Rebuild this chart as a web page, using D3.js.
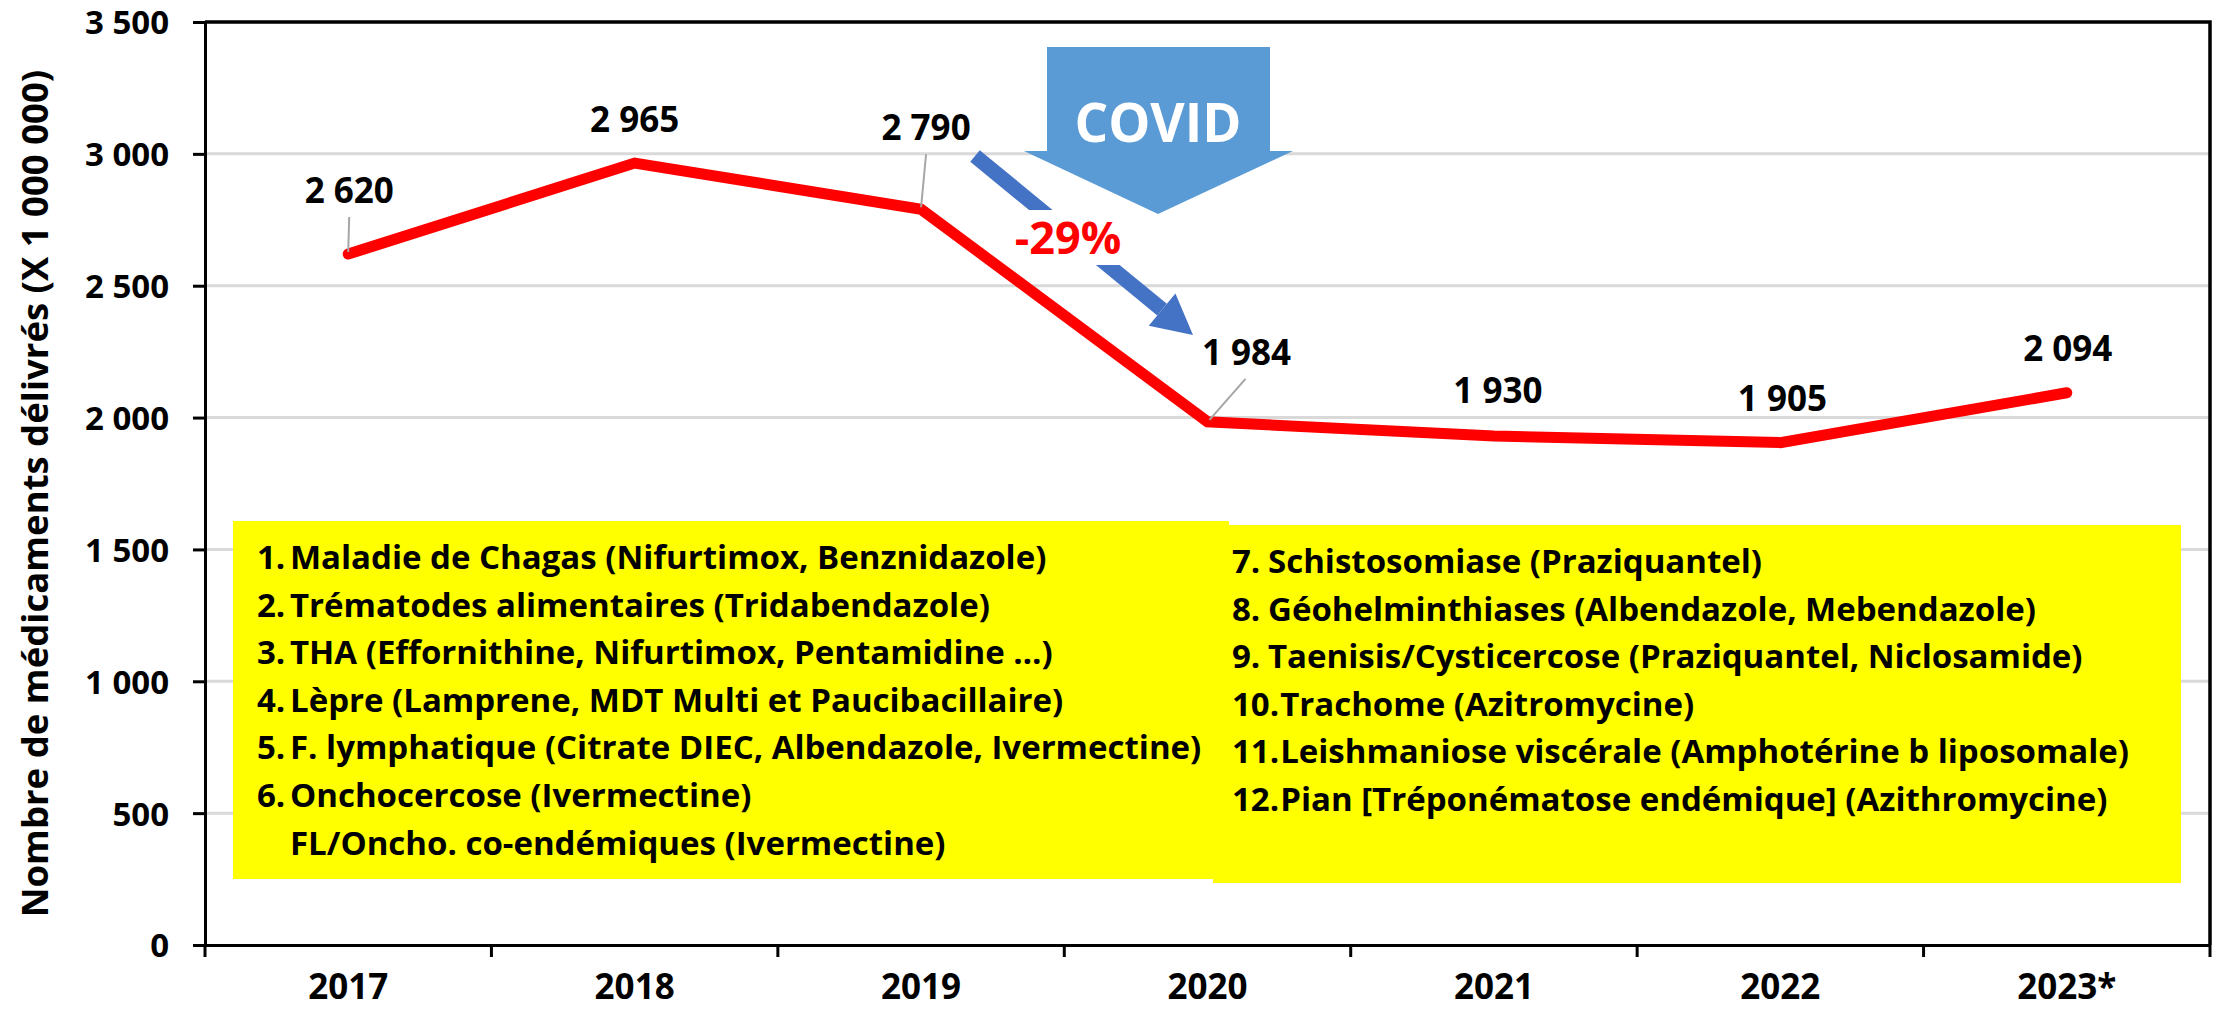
<!DOCTYPE html>
<html>
<head>
<meta charset="utf-8">
<script src="https://cdn.jsdelivr.net/npm/d3@7"></script>
<style>
  body { margin: 0; background: #fff; }
  text { font-family: 'Open Sans', Lato, sans-serif; font-weight: bold; }
</style>
</head>
<body>
<svg class="lineChart"></svg>
<script>
const years = ['2017', '2018', '2019', '2020', '2021', '2022', '2023*'];
const values = [2620, 2965, 2790, 1984, 1930, 1905, 2094];
const yTicks = [0, 500, 1000, 1500, 2000, 2500, 3000, 3500];
const yTitle = 'Nombre de médicaments délivrés (X 1 000 000)';
const covidText = 'COVID';
const dropText = '-29%';

const legendLeft = [
	['1.', 'Maladie de Chagas (Nifurtimox, Benznidazole)'],
	['2.', 'Trématodes alimentaires (Tridabendazole)'],
	['3.', 'THA (Effornithine, Nifurtimox, Pentamidine …)'],
	['4.', 'Lèpre (Lamprene, MDT Multi et Paucibacillaire)'],
	['5.', 'F. lymphatique (Citrate DIEC, Albendazole, Ivermectine)'],
	['6.', 'Onchocercose (Ivermectine)'],
	['', 'FL/Oncho. co-endémiques (Ivermectine)']
];
const legendRight = [
	['7.', 'Schistosomiase (Praziquantel)'],
	['8.', 'Géohelminthiases (Albendazole, Mebendazole)'],
	['9.', 'Taenisis/Cysticercose (Praziquantel, Niclosamide)'],
	['10.', 'Trachome (Azitromycine)'],
	['11.', 'Leishmaniose viscérale (Amphotérine b liposomale)'],
	['12.', 'Pian [Tréponématose endémique] (Azithromycine)']
];

// label offsets from each point: [dx, dy, leader line?]
const labelPos = [[1, -51, true], [0, -31, false], [5, -69, true], [39, -57, true], [4, -33, false], [2, -32, false], [1, -32, false]];

const svg = d3.select('.lineChart')
	.attr('width', 2219)
	.attr('height', 1009);

const fmt = d3.formatLocale({ decimal: ',', thousands: ' ', grouping: [3], currency: ['', ''] }).format(',');

const plotL = 205, plotR = 2210, plotT = 22, plotB = 945;

const yScale = d3.scaleLinear()
	.domain([0, 3500])
	.range([plotB, plotT]);

const xScale = d3.scaleBand()
	.domain(years)
	.range([plotL, plotR]);

const cx = d => xScale(d) + xScale.bandwidth() / 2;

// gridlines
svg.append('g')
	.selectAll('line')
	.data(yTicks.filter(t => t > 0 && t < 3500))
	.enter().append('line')
		.attr('x1', plotL).attr('x2', plotR)
		.attr('y1', d => yScale(d)).attr('y2', d => yScale(d))
		.attr('stroke', '#d9d9d9')
		.attr('stroke-width', 3);

// legend boxes
const drawLegend = (items, box, numX, textX) => {
	const g = svg.append('g');
	g.append('rect')
		.attr('x', box[0]).attr('y', box[1])
		.attr('width', box[2]).attr('height', box[3])
		.attr('fill', '#ffff00');
	items.forEach((it, i) => {
		const yy = box[1] + 48 + i * 47.6;
		const num = g.append('text')
			.attr('x', numX).attr('y', yy)
			.attr('font-size', 33)
			.text(it[0]);
		const w = it[0] ? num.node().getComputedTextLength() : 0;
		g.append('text')
			.attr('x', Math.max(textX, numX + w + 1)).attr('y', yy)
			.attr('font-size', 33)
			.text(it[1]);
	});
};
drawLegend(legendLeft, [233, 521, 996, 358], 257, 290);
drawLegend(legendRight, [1213, 525, 968, 358], 1232, 1268);

// y axis
const yAxis = d3.axisLeft(yScale)
	.tickValues(yTicks)
	.tickFormat(fmt)
	.tickSize(12)
	.tickSizeOuter(0)
	.tickPadding(24);

const yAxisG = svg.append('g')
	.attr('transform', `translate(${plotL},0)`)
	.call(yAxis);
yAxisG.select('.domain').attr('stroke-width', 3);
yAxisG.selectAll('.tick line').attr('stroke-width', 3);
yAxisG.selectAll('.tick text')
	.attr('font-size', 33)
	.attr('fill', '#000')
	.attr('dy', '0.36em');

// x axis
const xAxis = d3.axisBottom(xScale)
	.tickSize(0)
	.tickSizeOuter(0)
	.tickPadding(29);

const xAxisG = svg.append('g')
	.attr('transform', `translate(0,${plotB})`)
	.call(xAxis);
xAxisG.select('.domain').attr('stroke-width', 3);
xAxisG.selectAll('.tick text')
	.attr('font-size', 35)
	.attr('fill', '#000');

// category boundary ticks
svg.append('g')
	.selectAll('line')
	.data(years.map(d => xScale(d)).concat([plotR]))
	.enter().append('line')
		.attr('x1', d => d).attr('x2', d => d)
		.attr('y1', plotB).attr('y2', plotB + 12)
		.attr('stroke', '#000')
		.attr('stroke-width', 3);

// top and right frame
svg.append('path')
	.attr('d', `M${plotL},${plotT}H${plotR}V${plotB}`)
	.attr('fill', 'none')
	.attr('stroke', '#000')
	.attr('stroke-width', 3.5);

// y title
svg.append('text')
	.attr('transform', `translate(48,${(plotT + plotB) / 2 + 10}) rotate(-90)`)
	.attr('text-anchor', 'middle')
	.attr('font-size', 36.5)
	.text(yTitle);

// red line
const line = d3.line()
	.x((d, i) => cx(years[i]))
	.y(d => yScale(d));

svg.append('path')
	.datum(values)
	.attr('d', line)
	.attr('fill', 'none')
	.attr('stroke', '#ff0000')
	.attr('stroke-width', 11)
	.attr('stroke-linecap', 'round')
	.attr('stroke-linejoin', 'miter');

// value labels + leaders
const labels = svg.append('g');
values.forEach((v, i) => {
	const px = cx(years[i]), py = yScale(v);
	const [dx, dy, lead] = labelPos[i];
	if (lead) {
		labels.append('line')
			.attr('x1', px + dx - (dx > 20 ? 1 : 0)).attr('y1', py + dy + 14)
			.attr('x2', px + (dx > 20 ? 2 : 0)).attr('y2', py - 2)
			.attr('stroke', '#a6a6a6')
			.attr('stroke-width', 2);
	}
	labels.append('text')
		.attr('x', px + dx).attr('y', py + dy)
		.attr('text-anchor', 'middle')
		.attr('font-size', 35)
		.attr('fill', '#000')
		.text(fmt(v));
});

// COVID arrow
svg.append('path')
	.attr('d', 'M1047,47H1270V151H1293L1158,214L1024,151H1047Z')
	.attr('fill', '#5b9bd5');
svg.append('text')
	.attr('x', 1158).attr('y', 142)
	.attr('text-anchor', 'middle')
	.attr('font-size', 53)
	.attr('fill', '#fff')
	.text(covidText);

// -29% arrow
const ax0 = 975, ay0 = 156, ax1 = 1193, ay1 = 335;
const ang = Math.atan2(ay1 - ay0, ax1 - ax0);
const headLen = 40, headW = 21;
const bx = ax1 - headLen * Math.cos(ang), by = ay1 - headLen * Math.sin(ang);
svg.append('line')
	.attr('x1', ax0).attr('y1', ay0)
	.attr('x2', bx).attr('y2', by)
	.attr('stroke', '#4472c4')
	.attr('stroke-width', 15);
svg.append('path')
	.attr('d', `M${ax1},${ay1}L${bx - headW * Math.sin(ang)},${by + headW * Math.cos(ang)}L${bx + headW * Math.sin(ang)},${by - headW * Math.cos(ang)}Z`)
	.attr('fill', '#4472c4');

const dropBg = svg.append('rect').attr('fill', '#fff');
const drop = svg.append('text')
	.attr('x', 1068).attr('y', 254)
	.attr('text-anchor', 'middle')
	.attr('font-size', 45)
	.attr('fill', '#ff0000')
	.text(dropText);
const bb = drop.node().getBBox();
dropBg
	.attr('x', bb.x - 4).attr('y', bb.y + 4)
	.attr('width', bb.width + 8).attr('height', bb.height - 6);
</script>
</body>
</html>
